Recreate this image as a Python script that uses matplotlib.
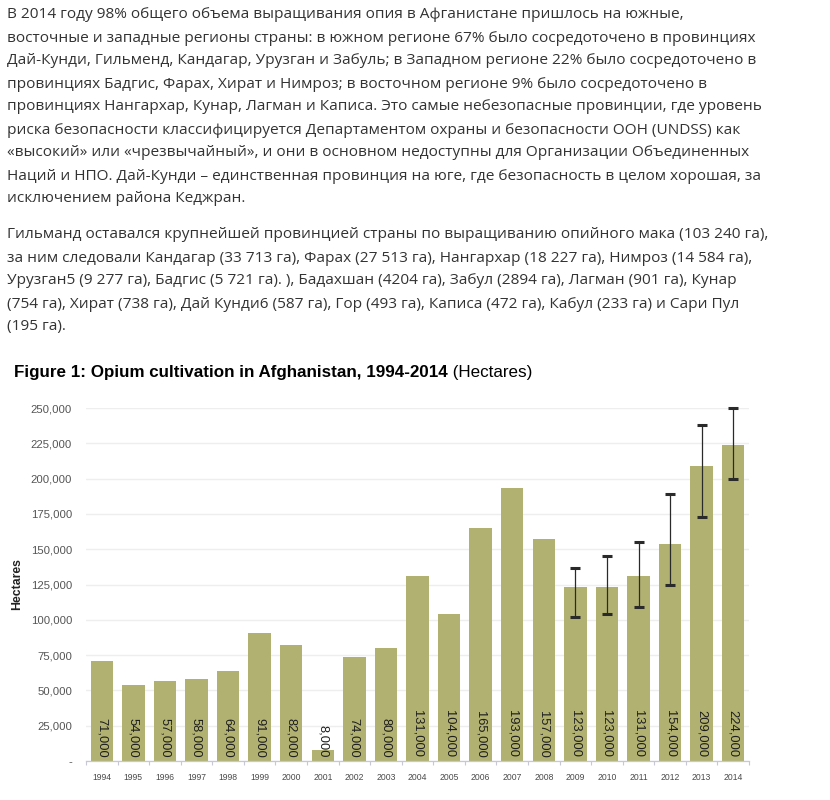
"""Opium cultivation in Afghanistan 1994-2014, with the Russian article text above."""
import matplotlib
matplotlib.use('Agg')
import matplotlib.pyplot as plt
from matplotlib.ticker import FuncFormatter, FixedLocator


PARAGRAPH_1 = [
    'В 2014 году 98% общего объема выращивания опия в Афганистане пришлось на южные,',
    'восточные и западные регионы страны: в южном регионе 67% было сосредоточено в провинциях',
    'Дай-Кунди, Гильменд, Кандагар, Урузган и Забуль; в Западном регионе 22% было сосредоточено в',
    'провинциях Бадгис, Фарах, Хират и Нимроз; в восточном регионе 9% было сосредоточено в',
    'провинциях Нангархар, Кунар, Лагман и Каписа. Это самые небезопасные провинции, где уровень',
    'риска безопасности классифицируется Департаментом охраны и безопасности ООН (UNDSS) как',
    '«высокий» или «чрезвычайный», и они в основном недоступны для Организации Объединенных',
    'Наций и НПО. Дай-Кунди – единственная провинция на юге, где безопасность в целом хорошая, за',
    'исключением района Кеджран.',
]
PARAGRAPH_2 = [
    'Гильманд оставался крупнейшей провинцией страны по выращиванию опийного мака (103 240 га),',
    'за ним следовали Кандагар (33 713 га), Фарах (27 513 га), Нангархар (18 227 га), Нимроз (14 584 га),',
    'Урузган5 (9 277 га), Бадгис (5 721 га). ), Бадахшан (4204 га), Забул (2894 га), Лагман (901 га), Кунар',
    '(754 га), Хират (738 га), Дай Кунди6 (587 га), Гор (493 га), Каписа (472 га), Кабул (233 га) и Сари Пул',
    '(195 га).',
]

TITLE_BOLD = 'Figure 1: Opium cultivation in Afghanistan, 1994-2014'
TITLE_UNIT = ' (Hectares)'
Y_LABEL = 'Hectares'

years = [1994, 1995, 1996, 1997, 1998, 1999, 2000, 2001, 2002, 2003, 2004,
         2005, 2006, 2007, 2008, 2009, 2010, 2011, 2012, 2013, 2014]
hectares = [71000, 54000, 57000, 58000, 64000, 91000, 82000, 8000, 74000,
            80000, 131000, 104000, 165000, 193000, 157000, 123000, 123000,
            131000, 154000, 209000, 224000]

# Estimate ranges, only given for the last years
range_years = [2009, 2010, 2011, 2012, 2013, 2014]
range_low = [102000, 104000, 109000, 125000, 173000, 200000]
range_high = [137000, 145000, 155000, 189000, 238000, 250000]

y_ticks = [0, 25000, 50000, 75000, 100000, 125000, 150000, 175000,
           200000, 225000, 250000]

BAR_COLOR = '#b1b171'
TEXT_COLOR = '#333333'
W, H = 830, 800

fig = plt.figure(figsize=(W / 100, H / 100), dpi=100)

# Article text, one line at a time (pixel positions from the top)
body_font = ['Open Sans', 'DejaVu Sans']
for i, line in enumerate(PARAGRAPH_1):
    fig.text(7 / W, 1 - (15 + 23 * i) / H, line, family=body_font,
             fontsize=11.05, color=TEXT_COLOR, va='center', ha='left')
for i, line in enumerate(PARAGRAPH_2):
    fig.text(7 / W, 1 - (235 + 23 * i) / H, line, family=body_font,
             fontsize=11.05, color=TEXT_COLOR, va='center', ha='left')

# Chart
ax = fig.add_axes([86 / W, 1 - 761 / H, 663 / W, (761 - 408) / H])
x = list(range(len(years)))
ax.bar(x, hectares, width=0.71, color=BAR_COLOR, zorder=2)

for xi, value in zip(x, hectares):
    ax.text(xi, 2500, f'{value:,}', rotation=-90, ha='center', va='bottom',
            fontsize=9.3, family='Liberation Sans', color='#1e1e1e', zorder=3)

err_x = [years.index(y) for y in range_years]
err_mid = [hectares[i] for i in err_x]
lower = [m - lo for m, lo in zip(err_mid, range_low)]
upper = [hi - m for m, hi in zip(err_mid, range_high)]
_, caps, bars = ax.errorbar(err_x, err_mid, yerr=[lower, upper], fmt='none',
                            ecolor='#2a2a2a', elinewidth=0.9, capsize=3.7,
                            capthick=2.2, zorder=4)
for artist in [*caps, *bars]:
    artist.set_clip_on(False)

ax.set_xlim(-0.5, len(years) - 0.5)
ax.set_ylim(0, 250000)
ax.yaxis.set_major_locator(FixedLocator(y_ticks))
ax.yaxis.set_major_formatter(FuncFormatter(lambda v, _: '-' if v == 0 else f'{int(v):,}'))
ax.set_xticks(x)
ax.set_xticklabels([str(y) for y in years])
ax.set_xticks([i + 0.5 for i in range(-1, len(years))], minor=True)

ax.grid(axis='y', color='#eeeeee', linewidth=1, zorder=0)
ax.set_axisbelow(True)
for side in ('top', 'right', 'left'):
    ax.spines[side].set_visible(False)
ax.spines['bottom'].set_color('#c8c8d4')
ax.spines['bottom'].set_linewidth(0.9)

ax.tick_params(axis='y', length=0, pad=10, labelsize=8.2, labelcolor='#555555')
ax.tick_params(axis='x', which='major', length=0, pad=9, labelsize=6.2,
               labelcolor='#4a4a4a')
ax.tick_params(axis='x', which='minor', length=3, color='#c8c8d4', width=0.8)
for label in ax.get_xticklabels() + ax.get_yticklabels():
    label.set_family('Liberation Sans')

fig.text(17 / W, 1 - 584 / H, Y_LABEL, rotation=90, ha='center', va='center',
         fontsize=8.8, fontweight='bold', family='Liberation Sans', color='#222222')

# Title: bold part followed by the unit in regular weight
title = fig.text(14 / W, 1 - 372 / H, TITLE_BOLD, fontsize=12.25,
                 fontweight='bold', family='Liberation Sans', color='black',
                 va='center', ha='left')
ax.annotate(TITLE_UNIT, xy=(1, 0.5), xycoords=title, va='center', ha='left',
            fontsize=12.25, family='Liberation Sans', color='black',
            annotation_clip=False)

fig.savefig('out.png', dpi=100)
